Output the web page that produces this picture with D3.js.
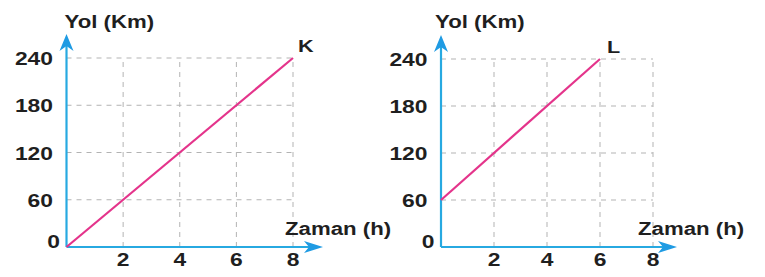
<!DOCTYPE html>
<html><head><meta charset="utf-8">
<script src="https://cdn.jsdelivr.net/npm/d3@7"></script>
<style>
html,body{margin:0;padding:0;background:#fff;}
svg{display:block;}
text{font-family:"Liberation Sans",Arial,sans-serif;font-weight:bold;fill:#1f1f1f;}
</style></head>
<body>
<script>
const xTicks = [2, 4, 6, 8];
const yTicks = [60, 120, 180, 240];
const xLabel = "Zaman (h)";
const yLabel = "Yol (Km)";
const seriesK = [[0, 0], [8, 240]];
const seriesL = [[0, 60], [6, 240]];
const seriesNames = ["K", "L"];

const W = 765, H = 277;
const svg = d3.select("body").append("svg").attr("width", W).attr("height", H);

const panels = [
  {name: seriesNames[0], data: seriesK, x0: 66.5, x1: 293, y0: 247, y1: 58, arrowX: 323, arrowY: 34, yLabDx: -2, xLabDx: -8, nameDx: 5},
  {name: seriesNames[1], data: seriesL, x0: 441, x1: 653, y0: 247, y1: 59, arrowX: 677, arrowY: 35, yLabDx: -6, xLabDx: -15, nameDx: 7}
];

const axisColor = "#27a9e1";
const lineColor = "#e4348b";
const gridColor = "#b3b3b3";
const SX = 1.27;

function txt(g, x, y, s, anchor, size) {
  g.append("text")
    .attr("transform", `translate(${x},${y}) scale(${SX},1)`)
    .attr("text-anchor", anchor)
    .attr("font-size", size)
    .text(s);
}

panels.forEach(p => {
  const x = d3.scaleLinear().domain([0, 8]).range([p.x0, p.x1]);
  const y = d3.scaleLinear().domain([0, 240]).range([p.y0, p.y1]);
  const g = svg.append("g");

  // grid
  g.selectAll(".vg").data(xTicks).enter().append("line")
    .attr("x1", d => x(d)).attr("x2", d => x(d))
    .attr("y1", y(0)).attr("y2", y(240))
    .attr("stroke", gridColor).attr("stroke-width", 1).attr("stroke-dasharray", "5,5");
  g.selectAll(".hg").data(yTicks).enter().append("line")
    .attr("x1", x(0)).attr("x2", x(8))
    .attr("y1", d => y(d)).attr("y2", d => y(d))
    .attr("stroke", gridColor).attr("stroke-width", 1).attr("stroke-dasharray", "5,5");

  // axes
  g.append("line").attr("x1", x(0)).attr("x2", p.arrowX - 14)
    .attr("y1", y(0)).attr("y2", y(0)).attr("stroke", axisColor).attr("stroke-width", 2.2);
  g.append("path")
    .attr("d", `M${p.arrowX},${y(0)} L${p.arrowX - 19},${y(0) - 6} L${p.arrowX - 14},${y(0)} L${p.arrowX - 19},${y(0) + 6} Z`)
    .attr("fill", "#1f9be3");
  g.append("line").attr("x1", x(0)).attr("x2", x(0))
    .attr("y1", y(0)).attr("y2", p.arrowY + 12).attr("stroke", axisColor).attr("stroke-width", 2.2);
  g.append("path")
    .attr("d", `M${x(0)},${p.arrowY} L${x(0) - 7},${p.arrowY + 17} L${x(0)},${p.arrowY + 12} L${x(0) + 7},${p.arrowY + 17} Z`)
    .attr("fill", "#1f9be3");

  // series line
  g.append("path").datum(p.data)
    .attr("d", d3.line().x(d => x(d[0])).y(d => y(d[1])))
    .attr("fill", "none").attr("stroke", lineColor).attr("stroke-width", 2.2);

  // tick labels
  xTicks.forEach(t => txt(g, x(t), y(0) + 19, String(t), "middle", 18));
  yTicks.forEach(t => txt(g, x(0) - 13.5, y(t) + 7, String(t), "end", 18));
  txt(g, x(0) - 6.5, y(0) + 0.5, "0", "end", 18);

  // axis labels
  txt(g, x(0) + p.yLabDx, 28, yLabel, "start", 17.5);
  txt(g, x(8) + p.xLabDx, 235, xLabel, "start", 17.5);

  // series name
  const last = p.data[p.data.length - 1];
  txt(g, x(last[0]) + p.nameDx, y(last[1]) - 6, p.name, "start", 17);
});
</script>
</body></html>
